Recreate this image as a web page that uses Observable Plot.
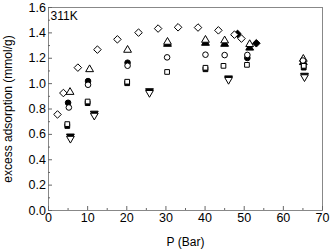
<!DOCTYPE html>
<html>
<head>
<meta charset="utf-8">
<script src="https://cdn.jsdelivr.net/npm/d3@7"></script>
<script src="https://cdn.jsdelivr.net/npm/@observablehq/plot@0.6"></script>
<style>
  body { margin: 0; background: #fff; }
  #chart { position: relative; width: 331px; height: 252px; }
  svg { font-family: "Liberation Sans", Arial, sans-serif; }
</style>
</head>
<body>
<div id="chart"></div>
<script>
// Data (P in bar, excess adsorption in mmol/g)
const diamondOpenP = [2.3, 3.8, 7.5, 12.5, 17.6, 23.0, 28.0, 33.1, 38.2, 43.4, 47.5, 49.3];
const diamondOpenV = [0.757, 0.926, 1.126, 1.268, 1.349, 1.402, 1.434, 1.444, 1.442, 1.420, 1.386, 1.355];
const diamondFillP = [48.3, 53.1];
const diamondFillV = [1.392, 1.318];

const triUpOpenP = [5.5, 10.5, 20.2, 30.4, 40.1, 45.0, 51.4, 65.1];
const triUpOpenV = [0.933, 1.112, 1.265, 1.328, 1.344, 1.339, 1.310, 1.194];
const triUpFillP = [30.4, 40.1, 45.0, 51.4, 65.1];
const triUpFillV = [1.312, 1.320, 1.312, 1.282, 1.168];

const circOpenP = [5.2, 10.1, 20.2, 30.3, 40.1, 45.0, 50.8, 65.0];
const circOpenV = [0.812, 0.991, 1.141, 1.207, 1.228, 1.225, 1.226, 1.182];
const circFillP = [5.0, 10.1, 20.2, 50.8];
const circFillV = [0.849, 1.020, 1.165, 1.202];

const sqOpenP = [4.8, 10.0, 20.1, 30.3, 40.1, 44.7, 50.7, 65.2];
const sqOpenV = [0.681, 0.859, 1.015, 1.092, 1.125, 1.140, 1.148, 1.140];
const sqFillP = [4.8, 10.0, 20.1, 40.1, 65.2];
const sqFillV = [0.666, 0.846, 1.003, 1.113, 1.126];

const triDnOpenP = [5.6, 11.7, 25.8, 46.0, 65.4];
const triDnOpenV = [0.567, 0.749, 0.928, 1.031, 1.052];
const triDnFillP = [5.6, 11.7, 25.8, 46.0, 65.4];
const triDnFillV = [0.585, 0.765, 0.942, 1.043, 1.064];

const xTicks = [0, 10, 20, 30, 40, 50, 60, 70];
const xMinor = [5, 15, 25, 35, 45, 55, 65];
const yTicks = [0.0, 0.2, 0.4, 0.6, 0.8, 1.0, 1.2, 1.4, 1.6];
const yMinor = [0.1, 0.3, 0.5, 0.7, 0.9, 1.1, 1.3, 1.5];

const title = "311K";
const xLabel = "P (Bar)";
const yLabel = "excess adsorption (mmol/g)";

const rows = (P, V) => P.map((p, i) => ({p, v: V[i]}));

const dot = (P, V, symbol, filled, extra = {}) => Plot.dot(rows(P, V), {
  x: "p", y: "v", symbol: () => symbol, r: extra.r ?? 2.9,
  stroke: "#000", strokeWidth: 1,
  fill: filled ? "#000" : "#fff",
  rotate: extra.rotate ?? 0
});

const chart = Plot.plot({
  width: 331,
  height: 252,
  marginLeft: 48,
  marginRight: 9,
  marginTop: 7,
  marginBottom: 42,
  style: {fontSize: "12px", fontFamily: "'Liberation Sans', Arial, sans-serif", color: "#000"},
  x: {domain: [0, 70]},
  y: {domain: [0, 1.6]},
  symbol: {type: "identity"},
  marks: [
    Plot.frame({stroke: "#888", strokeWidth: 1}),
    Plot.axisX({ticks: xTicks, tickSize: -4, tickPadding: 7, tickFormat: d => String(d), label: null, stroke: "#666", fontSize: 12.5}),
    Plot.axisX({ticks: xMinor, tickSize: -2, tickFormat: () => "", label: null, stroke: "#666"}),
    Plot.axisY({ticks: yTicks, tickSize: -4, tickPadding: 6.5, tickFormat: d3.format(".1f"), label: null, stroke: "#666", fontSize: 12.5}),
    Plot.axisY({ticks: yMinor, tickSize: -2, tickFormat: () => "", label: null, stroke: "#666"}),
    Plot.text([xLabel], {frameAnchor: "bottom", dy: 35, text: d => d, fontSize: 12}),
    Plot.text([yLabel], {frameAnchor: "left", dx: -40, rotate: -90, textAnchor: "middle", text: d => d, fontSize: 12}),
    Plot.text([title], {frameAnchor: "top-left", dx: 2, dy: 4, text: d => d, fontSize: 12}),
    // filled markers first (partly hidden behind open ones)
    dot(diamondFillP, diamondFillV, "diamond2", true, {r: 3.4}),
    dot(triUpFillP, triUpFillV, "triangle", true),
    dot(circFillP, circFillV, "circle", true, {r: 2.8}),
    dot(sqFillP, sqFillV, "square2", true, {r: 3.0}),
    dot(triDnFillP, triDnFillV, "triangle", true, {rotate: 180}),
    // open markers
    dot(diamondOpenP, diamondOpenV, "diamond2", false, {r: 3.4}),
    dot(triUpOpenP, triUpOpenV, "triangle", false),
    dot(circOpenP, circOpenV, "circle", false, {r: 2.8}),
    dot(sqOpenP, sqOpenV, "square2", false, {r: 3.0}),
    dot(triDnOpenP, triDnOpenV, "triangle", false, {rotate: 180})
  ]
});
document.getElementById("chart").appendChild(chart);
</script>
</body>
</html>
